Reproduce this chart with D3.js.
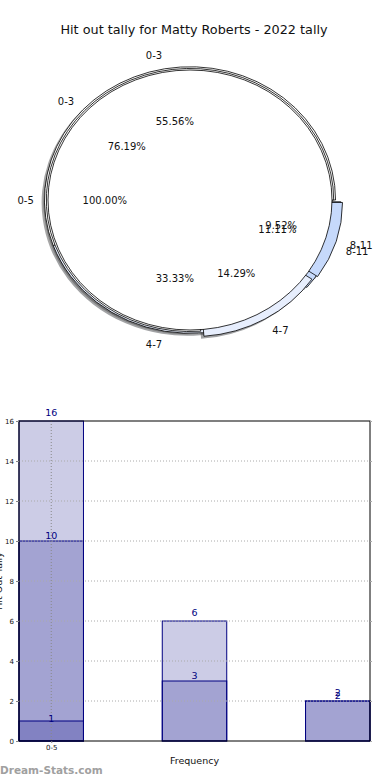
<!DOCTYPE html>
<html>
<head>
<meta charset="utf-8">
<script src="https://cdn.jsdelivr.net/npm/d3@7"></script>
<style>
  body { margin: 0; background: #fff; }
  svg { display: block; font-family: "DejaVu Sans", sans-serif; }
</style>
</head>
<body>
<svg></svg>
<script>
var width  = 390,
    height = 780;

// pie rings (outer one drawn first)
var ring1Labels = ["0-5"],
    ring1Values = [21];
var ring2Labels = ["0-3", "4-7", "8-11"],
    ring2Values = [16, 3, 2];
var ring3Labels = ["0-3", "4-7", "8-11"],
    ring3Values = [5, 3, 1];

// tally bars, drawn on top of each other
var barCategories = ["0-5", "4-7", "8-11"];
var seriesA = [16, 6, 2],
    seriesB = [10, 3, 2],
    seriesC = [1, 0, 0];
var yTicks = [0, 2, 4, 6, 8, 10, 12, 14, 16];

var svg = d3.select("svg")
  .attr("width", width)
  .attr("height", height);

svg.append("text")
  .attr("x", 194).attr("y", 34)
  .attr("text-anchor", "middle")
  .attr("font-size", 12.8)
  .attr("fill", "#111")
  .text("Hit out tally for Matty Roberts - 2022 tally");

// ---------- pies ----------
var cx = 190, cy = 200, rx = 142, ry = 130;
var wedgeColors = ["#ffffff", "#e7eefd", "#c6d9fb"];

var rings = [
  {labels: ring3Labels, values: ring3Values, scale: 1.025, explode: [0, 0, 0.04]},
  {labels: ring2Labels, values: ring2Values, scale: 1.012, explode: [0, 0.045, 0.065]},
  {labels: ring1Labels, values: ring1Values, scale: 1.0,   explode: [0]}
];

var pie = d3.pie().sort(null)
  .startAngle(Math.PI / 2)
  .endAngle(Math.PI / 2 - 2 * Math.PI);

var pieG = svg.append("g");
var shadowG = pieG.append("g"),
    wedgeG = pieG.append("g"),
    textG = pieG.append("g");

function darker(c) {
  var col = d3.rgb(c);
  return d3.rgb(col.r * 0.3, col.g * 0.3, col.b * 0.3).toString();
}

rings.forEach(function(ring) {
  var total = d3.sum(ring.values);
  var arcs = pie(ring.values);
  var arc = d3.arc().innerRadius(0).outerRadius(rx * ring.scale);

  arcs.forEach(function(d, i) {
    var mid = (d.startAngle + d.endAngle) / 2;
    var e = ring.explode[i];
    var ox = cx + e * rx * Math.sin(mid),
        oy = cy - e * ry * Math.cos(mid);
    var color = wedgeColors[i % wedgeColors.length];

    shadowG.append("path")
      .attr("d", arc(d))
      .attr("transform", "translate(" + (ox - 0.02 * rx) + "," + (oy + 0.02 * ry) + ") scale(1," + (ry / rx) + ")")
      .attr("fill", darker(color))
      .attr("fill-opacity", 0.5);

    wedgeG.append("path")
      .attr("d", arc(d))
      .attr("transform", "translate(" + ox + "," + oy + ") scale(1," + (ry / rx) + ")")
      .attr("fill", color)
      .attr("stroke", "#000")
      .attr("stroke-width", 0.8)
      .attr("vector-effect", "non-scaling-stroke");

    var lx = ox + 1.1 * ring.scale * rx * Math.sin(mid),
        ly = oy - 1.1 * ring.scale * ry * Math.cos(mid);
    textG.append("text")
      .attr("x", lx).attr("y", ly)
      .attr("dy", "0.35em")
      .attr("text-anchor", lx > cx ? "start" : "end")
      .attr("font-size", 10)
      .attr("fill", "#111")
      .text(ring.labels[i]);

    var px = ox + 0.6 * ring.scale * rx * Math.sin(mid),
        py = oy - 0.6 * ring.scale * ry * Math.cos(mid);
    textG.append("text")
      .attr("x", px).attr("y", py)
      .attr("dy", "0.35em")
      .attr("text-anchor", "middle")
      .attr("font-size", 10)
      .attr("fill", "#111")
      .text((100 * ring.values[i] / total).toFixed(2) + "%");
  });
});

// ---------- bars ----------
var plotLeft = 19, plotRight = 370, plotTop = 421, plotBottom = 741;
var barWidth = 0.45;

var x = d3.scaleLinear()
  .domain([-barWidth / 2, barCategories.length - 1 + barWidth / 2])
  .range([plotLeft, plotRight]);
var y = d3.scaleLinear()
  .domain([0, 16])
  .range([plotBottom, plotTop]);

var chart = svg.append("g");

var series = [
  {values: seriesA, offset: 8},
  {values: seriesB, offset: 5},
  {values: seriesC, offset: 2}
];

series.forEach(function(s) {
  var items = s.values.map(function(v, i) { return {i: i, v: v}; })
    .filter(function(d) { return d.v > 0; });

  chart.selectAll(null)
    .data(items)
    .enter()
      .append("rect")
      .attr("x", function(d) { return x(d.i - barWidth / 2); })
      .attr("y", function(d) { return y(d.v); })
      .attr("width", function(d) { return x(d.i + barWidth / 2) - x(d.i - barWidth / 2); })
      .attr("height", function(d) { return y(0) - y(d.v); })
      .attr("fill", "#000080")
      .attr("fill-opacity", 0.2)
      .attr("stroke", "#000080")
      .attr("stroke-width", 1);
});

// dotted grid over the bars
chart.selectAll(null)
  .data(yTicks.slice(1, -1))
  .enter()
    .append("line")
    .attr("x1", plotLeft).attr("x2", plotRight)
    .attr("y1", function(d) { return y(d); })
    .attr("y2", function(d) { return y(d); })
    .attr("stroke", "#aaa")
    .attr("stroke-width", 1)
    .attr("stroke-dasharray", "1,2");

chart.append("line")
  .attr("x1", x(0)).attr("x2", x(0))
  .attr("y1", plotTop).attr("y2", plotBottom)
  .attr("stroke", "#888")
  .attr("stroke-width", 1)
  .attr("stroke-dasharray", "1,2");

series.forEach(function(s) {
  var items = s.values.map(function(v, i) { return {i: i, v: v}; })
    .filter(function(d) { return d.v > 0; });

  chart.selectAll(null)
    .data(items)
    .enter()
      .append("text")
      .attr("x", function(d) { return x(d.i); })
      .attr("y", function(d) { return y(d.v) - s.offset; })
      .attr("dy", "0.35em")
      .attr("text-anchor", "middle")
      .attr("font-size", 9.5)
      .attr("fill", "#000080")
      .text(function(d) { return d.v; });
});

// frame
chart.append("rect")
  .attr("x", plotLeft).attr("y", plotTop)
  .attr("width", plotRight - plotLeft).attr("height", plotBottom - plotTop)
  .attr("fill", "none")
  .attr("stroke", "#000")
  .attr("stroke-width", 1);

var yAxis = chart.append("g")
  .attr("transform", "translate(" + plotLeft + ",0)")
  .call(d3.axisLeft(y).tickValues(yTicks).tickSize(3).tickPadding(2));
yAxis.select(".domain").remove();
yAxis.selectAll("line").attr("stroke", "#888");
yAxis.selectAll("text").attr("font-size", 7).attr("font-family", "DejaVu Sans, sans-serif").attr("fill", "#111");

var yAxisR = chart.append("g")
  .attr("transform", "translate(" + plotRight + ",0)")
  .call(d3.axisRight(y).tickValues(yTicks).tickSize(2).tickFormat(""));
yAxisR.select(".domain").remove();
yAxisR.selectAll("line").attr("stroke", "#aaa");

var xAxis = chart.append("g")
  .attr("transform", "translate(0," + plotBottom + ")")
  .call(d3.axisBottom(x).tickValues([0]).tickSize(2).tickPadding(2)
    .tickFormat(function(d) { return barCategories[d]; }));
xAxis.select(".domain").remove();
xAxis.selectAll("line").attr("stroke", "#888");
xAxis.selectAll("text").attr("font-size", 7).attr("font-family", "DejaVu Sans, sans-serif").attr("fill", "#111");

svg.append("text")
  .attr("x", (plotLeft + plotRight) / 2).attr("y", 764)
  .attr("text-anchor", "middle")
  .attr("font-size", 9.5)
  .attr("fill", "#111")
  .text("Frequency");

svg.append("text")
  .attr("transform", "translate(2," + ((plotTop + plotBottom) / 2) + ") rotate(-90)")
  .attr("text-anchor", "middle")
  .attr("font-size", 9.5)
  .attr("fill", "#111")
  .text("Hit Out Tally");

svg.append("text")
  .attr("x", 0).attr("y", 774)
  .attr("font-size", 10.5)
  .attr("font-weight", "bold")
  .attr("fill", "#a0a0a0")
  .text("Dream-Stats.com");
</script>
</body>
</html>
